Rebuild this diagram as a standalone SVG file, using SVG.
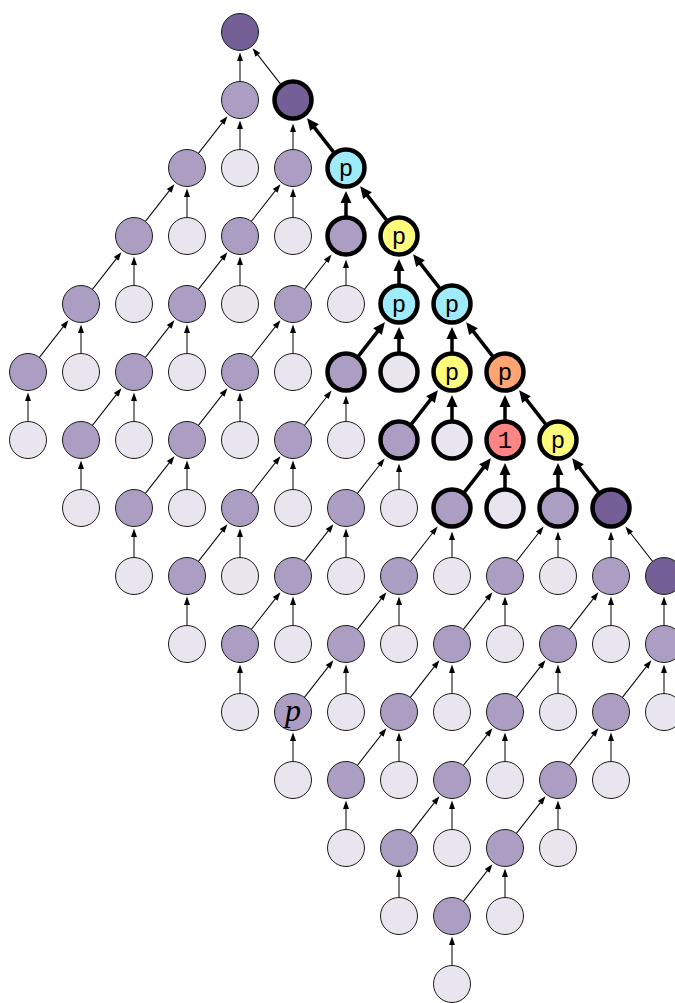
<svg xmlns="http://www.w3.org/2000/svg" xmlns:xlink="http://www.w3.org/1999/xlink" width="675" height="1003" viewBox="0 0 675 1003">
<style>
circle{stroke:#1a1a1a;stroke-width:1}
.b{stroke:#000;stroke-width:4.5}
.dk{fill:#745f97}
.md{fill:#ac9dc3}
.lt{fill:#e8e5ef}
.cy{fill:#a0ebf9}
.ye{fill:#fefc7d}
.or{fill:#ffa472}
.rd{fill:#ff8585}
text.t{font-family:"Liberation Mono","DejaVu Sans Mono",monospace;font-size:24px;text-anchor:middle;fill:#000}
text.m{font-family:"Liberation Serif","DejaVu Serif",serif;font-style:italic;font-size:32px;text-anchor:middle;fill:#000}
</style>
<defs>
<g id="tn"><line x1="0" y1="80" x2="0" y2="28" stroke="#000" stroke-width="1"/><path d="M0,20.5 L3,29 L-3,29Z" fill="#000"/></g>
<g id="tb"><line x1="0" y1="80" x2="0" y2="31" stroke="#000" stroke-width="1"/><path d="M0,23.5 L3,32 L-3,32Z" fill="#000"/></g>
<g id="bb"><line x1="0" y1="80" x2="0" y2="34" stroke="#000" stroke-width="3.5"/><path d="M0,23 L5.5,35 L-5.5,35Z" fill="#000"/></g>
</defs>
<g id="edges">
<use href="#tn" transform="translate(240,32)"/><use href="#tn" transform="translate(240,32) rotate(-37.93)"/>
<use href="#tn" transform="translate(240,100)"/><use href="#tn" transform="translate(240,100) rotate(37.93)"/>
<use href="#tb" transform="translate(293,100)"/><use href="#bb" transform="translate(293,100) rotate(-37.93)"/>
<use href="#tn" transform="translate(187,168)"/><use href="#tn" transform="translate(187,168) rotate(37.93)"/>
<use href="#tn" transform="translate(293,168)"/><use href="#tn" transform="translate(293,168) rotate(37.93)"/>
<use href="#bb" transform="translate(346,168)"/><use href="#bb" transform="translate(346,168) rotate(-37.93)"/>
<use href="#tn" transform="translate(134,236)"/><use href="#tn" transform="translate(134,236) rotate(37.93)"/>
<use href="#tn" transform="translate(240,236)"/><use href="#tn" transform="translate(240,236) rotate(37.93)"/>
<use href="#tb" transform="translate(346,236)"/><use href="#tb" transform="translate(346,236) rotate(37.93)"/>
<use href="#bb" transform="translate(399,236)"/><use href="#bb" transform="translate(399,236) rotate(-37.93)"/>
<use href="#tn" transform="translate(81,304)"/><use href="#tn" transform="translate(81,304) rotate(37.93)"/>
<use href="#tn" transform="translate(187,304)"/><use href="#tn" transform="translate(187,304) rotate(37.93)"/>
<use href="#tn" transform="translate(293,304)"/><use href="#tn" transform="translate(293,304) rotate(37.93)"/>
<use href="#bb" transform="translate(399,304)"/><use href="#bb" transform="translate(399,304) rotate(37.93)"/>
<use href="#bb" transform="translate(452,304)"/><use href="#bb" transform="translate(452,304) rotate(-37.93)"/>
<use href="#tn" transform="translate(28,372)"/>
<use href="#tn" transform="translate(134,372)"/><use href="#tn" transform="translate(134,372) rotate(37.93)"/>
<use href="#tn" transform="translate(240,372)"/><use href="#tn" transform="translate(240,372) rotate(37.93)"/>
<use href="#tb" transform="translate(346,372)"/><use href="#tb" transform="translate(346,372) rotate(37.93)"/>
<use href="#bb" transform="translate(452,372)"/><use href="#bb" transform="translate(452,372) rotate(37.93)"/>
<use href="#bb" transform="translate(505,372)"/><use href="#bb" transform="translate(505,372) rotate(-37.93)"/>
<use href="#tn" transform="translate(81,440)"/>
<use href="#tn" transform="translate(187,440)"/><use href="#tn" transform="translate(187,440) rotate(37.93)"/>
<use href="#tn" transform="translate(293,440)"/><use href="#tn" transform="translate(293,440) rotate(37.93)"/>
<use href="#tb" transform="translate(399,440)"/><use href="#tb" transform="translate(399,440) rotate(37.93)"/>
<use href="#bb" transform="translate(505,440)"/><use href="#bb" transform="translate(505,440) rotate(37.93)"/>
<use href="#bb" transform="translate(558,440)"/><use href="#bb" transform="translate(558,440) rotate(-37.93)"/>
<use href="#tn" transform="translate(134,508)"/>
<use href="#tn" transform="translate(240,508)"/><use href="#tn" transform="translate(240,508) rotate(37.93)"/>
<use href="#tn" transform="translate(346,508)"/><use href="#tn" transform="translate(346,508) rotate(37.93)"/>
<use href="#tb" transform="translate(452,508)"/><use href="#tb" transform="translate(452,508) rotate(37.93)"/>
<use href="#tb" transform="translate(558,508)"/><use href="#tb" transform="translate(558,508) rotate(37.93)"/>
<use href="#tb" transform="translate(611,508)"/><use href="#tb" transform="translate(611,508) rotate(-37.93)"/>
<use href="#tn" transform="translate(187,576)"/>
<use href="#tn" transform="translate(293,576)"/><use href="#tn" transform="translate(293,576) rotate(37.93)"/>
<use href="#tn" transform="translate(399,576)"/><use href="#tn" transform="translate(399,576) rotate(37.93)"/>
<use href="#tn" transform="translate(505,576)"/><use href="#tn" transform="translate(505,576) rotate(37.93)"/>
<use href="#tn" transform="translate(611,576)"/><use href="#tn" transform="translate(611,576) rotate(37.93)"/>
<use href="#tn" transform="translate(664,576)"/>
<use href="#tn" transform="translate(240,644)"/>
<use href="#tn" transform="translate(346,644)"/><use href="#tn" transform="translate(346,644) rotate(37.93)"/>
<use href="#tn" transform="translate(452,644)"/><use href="#tn" transform="translate(452,644) rotate(37.93)"/>
<use href="#tn" transform="translate(558,644)"/><use href="#tn" transform="translate(558,644) rotate(37.93)"/>
<use href="#tn" transform="translate(664,644)"/><use href="#tn" transform="translate(664,644) rotate(37.93)"/>
<use href="#tn" transform="translate(293,712)"/>
<use href="#tn" transform="translate(399,712)"/><use href="#tn" transform="translate(399,712) rotate(37.93)"/>
<use href="#tn" transform="translate(505,712)"/><use href="#tn" transform="translate(505,712) rotate(37.93)"/>
<use href="#tn" transform="translate(611,712)"/><use href="#tn" transform="translate(611,712) rotate(37.93)"/>
<use href="#tn" transform="translate(346,780)"/>
<use href="#tn" transform="translate(452,780)"/><use href="#tn" transform="translate(452,780) rotate(37.93)"/>
<use href="#tn" transform="translate(558,780)"/><use href="#tn" transform="translate(558,780) rotate(37.93)"/>
<use href="#tn" transform="translate(399,848)"/>
<use href="#tn" transform="translate(505,848)"/><use href="#tn" transform="translate(505,848) rotate(37.93)"/>
<use href="#tn" transform="translate(452,916)"/>
</g>
<g id="nodes">
<g id="n0_4"><circle class="dk" cx="240" cy="32" r="18.5"/></g>
<g id="n1_4"><circle class="md" cx="240" cy="100" r="18.5"/></g>
<g id="n1_5"><circle class="dk b" cx="293" cy="100" r="18.5"/></g>
<g id="n2_3"><circle class="md" cx="187" cy="168" r="18.5"/></g>
<g id="n2_4"><circle class="lt" cx="240" cy="168" r="18.5"/></g>
<g id="n2_5"><circle class="md" cx="293" cy="168" r="18.5"/></g>
<g id="n2_6"><circle class="cy b" cx="346" cy="168" r="18.5"/><text class="t" x="346" y="176">p</text></g>
<g id="n3_2"><circle class="md" cx="134" cy="236" r="18.5"/></g>
<g id="n3_3"><circle class="lt" cx="187" cy="236" r="18.5"/></g>
<g id="n3_4"><circle class="md" cx="240" cy="236" r="18.5"/></g>
<g id="n3_5"><circle class="lt" cx="293" cy="236" r="18.5"/></g>
<g id="n3_6"><circle class="md b" cx="346" cy="236" r="18.5"/></g>
<g id="n3_7"><circle class="ye b" cx="399" cy="236" r="18.5"/><text class="t" x="399" y="244">p</text></g>
<g id="n4_1"><circle class="md" cx="81" cy="304" r="18.5"/></g>
<g id="n4_2"><circle class="lt" cx="134" cy="304" r="18.5"/></g>
<g id="n4_3"><circle class="md" cx="187" cy="304" r="18.5"/></g>
<g id="n4_4"><circle class="lt" cx="240" cy="304" r="18.5"/></g>
<g id="n4_5"><circle class="md" cx="293" cy="304" r="18.5"/></g>
<g id="n4_6"><circle class="lt" cx="346" cy="304" r="18.5"/></g>
<g id="n4_7"><circle class="cy b" cx="399" cy="304" r="18.5"/><text class="t" x="399" y="312">p</text></g>
<g id="n4_8"><circle class="cy b" cx="452" cy="304" r="18.5"/><text class="t" x="452" y="312">p</text></g>
<g id="n5_0"><circle class="md" cx="28" cy="372" r="18.5"/></g>
<g id="n5_1"><circle class="lt" cx="81" cy="372" r="18.5"/></g>
<g id="n5_2"><circle class="md" cx="134" cy="372" r="18.5"/></g>
<g id="n5_3"><circle class="lt" cx="187" cy="372" r="18.5"/></g>
<g id="n5_4"><circle class="md" cx="240" cy="372" r="18.5"/></g>
<g id="n5_5"><circle class="lt" cx="293" cy="372" r="18.5"/></g>
<g id="n5_6"><circle class="md b" cx="346" cy="372" r="18.5"/></g>
<g id="n5_7"><circle class="lt b" cx="399" cy="372" r="18.5"/></g>
<g id="n5_8"><circle class="ye b" cx="452" cy="372" r="18.5"/><text class="t" x="452" y="380">p</text></g>
<g id="n5_9"><circle class="or b" cx="505" cy="372" r="18.5"/><text class="t" x="505" y="380">p</text></g>
<g id="n6_0"><circle class="lt" cx="28" cy="440" r="18.5"/></g>
<g id="n6_1"><circle class="md" cx="81" cy="440" r="18.5"/></g>
<g id="n6_2"><circle class="lt" cx="134" cy="440" r="18.5"/></g>
<g id="n6_3"><circle class="md" cx="187" cy="440" r="18.5"/></g>
<g id="n6_4"><circle class="lt" cx="240" cy="440" r="18.5"/></g>
<g id="n6_5"><circle class="md" cx="293" cy="440" r="18.5"/></g>
<g id="n6_6"><circle class="lt" cx="346" cy="440" r="18.5"/></g>
<g id="n6_7"><circle class="md b" cx="399" cy="440" r="18.5"/></g>
<g id="n6_8"><circle class="lt b" cx="452" cy="440" r="18.5"/></g>
<g id="n6_9"><circle class="rd b" cx="505" cy="440" r="18.5"/><text class="t" x="505" y="448">1</text></g>
<g id="n6_10"><circle class="ye b" cx="558" cy="440" r="18.5"/><text class="t" x="558" y="448">p</text></g>
<g id="n7_1"><circle class="lt" cx="81" cy="508" r="18.5"/></g>
<g id="n7_2"><circle class="md" cx="134" cy="508" r="18.5"/></g>
<g id="n7_3"><circle class="lt" cx="187" cy="508" r="18.5"/></g>
<g id="n7_4"><circle class="md" cx="240" cy="508" r="18.5"/></g>
<g id="n7_5"><circle class="lt" cx="293" cy="508" r="18.5"/></g>
<g id="n7_6"><circle class="md" cx="346" cy="508" r="18.5"/></g>
<g id="n7_7"><circle class="lt" cx="399" cy="508" r="18.5"/></g>
<g id="n7_8"><circle class="md b" cx="452" cy="508" r="18.5"/></g>
<g id="n7_9"><circle class="lt b" cx="505" cy="508" r="18.5"/></g>
<g id="n7_10"><circle class="md b" cx="558" cy="508" r="18.5"/></g>
<g id="n7_11"><circle class="dk b" cx="611" cy="508" r="18.5"/></g>
<g id="n8_2"><circle class="lt" cx="134" cy="576" r="18.5"/></g>
<g id="n8_3"><circle class="md" cx="187" cy="576" r="18.5"/></g>
<g id="n8_4"><circle class="lt" cx="240" cy="576" r="18.5"/></g>
<g id="n8_5"><circle class="md" cx="293" cy="576" r="18.5"/></g>
<g id="n8_6"><circle class="lt" cx="346" cy="576" r="18.5"/></g>
<g id="n8_7"><circle class="md" cx="399" cy="576" r="18.5"/></g>
<g id="n8_8"><circle class="lt" cx="452" cy="576" r="18.5"/></g>
<g id="n8_9"><circle class="md" cx="505" cy="576" r="18.5"/></g>
<g id="n8_10"><circle class="lt" cx="558" cy="576" r="18.5"/></g>
<g id="n8_11"><circle class="md" cx="611" cy="576" r="18.5"/></g>
<g id="n8_12"><circle class="dk" cx="664" cy="576" r="18.5"/></g>
<g id="n9_3"><circle class="lt" cx="187" cy="644" r="18.5"/></g>
<g id="n9_4"><circle class="md" cx="240" cy="644" r="18.5"/></g>
<g id="n9_5"><circle class="lt" cx="293" cy="644" r="18.5"/></g>
<g id="n9_6"><circle class="md" cx="346" cy="644" r="18.5"/></g>
<g id="n9_7"><circle class="lt" cx="399" cy="644" r="18.5"/></g>
<g id="n9_8"><circle class="md" cx="452" cy="644" r="18.5"/></g>
<g id="n9_9"><circle class="lt" cx="505" cy="644" r="18.5"/></g>
<g id="n9_10"><circle class="md" cx="558" cy="644" r="18.5"/></g>
<g id="n9_11"><circle class="lt" cx="611" cy="644" r="18.5"/></g>
<g id="n9_12"><circle class="md" cx="664" cy="644" r="18.5"/></g>
<g id="n10_4"><circle class="lt" cx="240" cy="712" r="18.5"/></g>
<g id="n10_5"><circle class="md" cx="293" cy="712" r="18.5"/><text class="m" x="293" y="721">p</text></g>
<g id="n10_6"><circle class="lt" cx="346" cy="712" r="18.5"/></g>
<g id="n10_7"><circle class="md" cx="399" cy="712" r="18.5"/></g>
<g id="n10_8"><circle class="lt" cx="452" cy="712" r="18.5"/></g>
<g id="n10_9"><circle class="md" cx="505" cy="712" r="18.5"/></g>
<g id="n10_10"><circle class="lt" cx="558" cy="712" r="18.5"/></g>
<g id="n10_11"><circle class="md" cx="611" cy="712" r="18.5"/></g>
<g id="n10_12"><circle class="lt" cx="664" cy="712" r="18.5"/></g>
<g id="n11_5"><circle class="lt" cx="293" cy="780" r="18.5"/></g>
<g id="n11_6"><circle class="md" cx="346" cy="780" r="18.5"/></g>
<g id="n11_7"><circle class="lt" cx="399" cy="780" r="18.5"/></g>
<g id="n11_8"><circle class="md" cx="452" cy="780" r="18.5"/></g>
<g id="n11_9"><circle class="lt" cx="505" cy="780" r="18.5"/></g>
<g id="n11_10"><circle class="md" cx="558" cy="780" r="18.5"/></g>
<g id="n11_11"><circle class="lt" cx="611" cy="780" r="18.5"/></g>
<g id="n12_6"><circle class="lt" cx="346" cy="848" r="18.5"/></g>
<g id="n12_7"><circle class="md" cx="399" cy="848" r="18.5"/></g>
<g id="n12_8"><circle class="lt" cx="452" cy="848" r="18.5"/></g>
<g id="n12_9"><circle class="md" cx="505" cy="848" r="18.5"/></g>
<g id="n12_10"><circle class="lt" cx="558" cy="848" r="18.5"/></g>
<g id="n13_7"><circle class="lt" cx="399" cy="916" r="18.5"/></g>
<g id="n13_8"><circle class="md" cx="452" cy="916" r="18.5"/></g>
<g id="n13_9"><circle class="lt" cx="505" cy="916" r="18.5"/></g>
<g id="n14_8"><circle class="lt" cx="452" cy="984" r="18.5"/></g>
</g>
</svg>
